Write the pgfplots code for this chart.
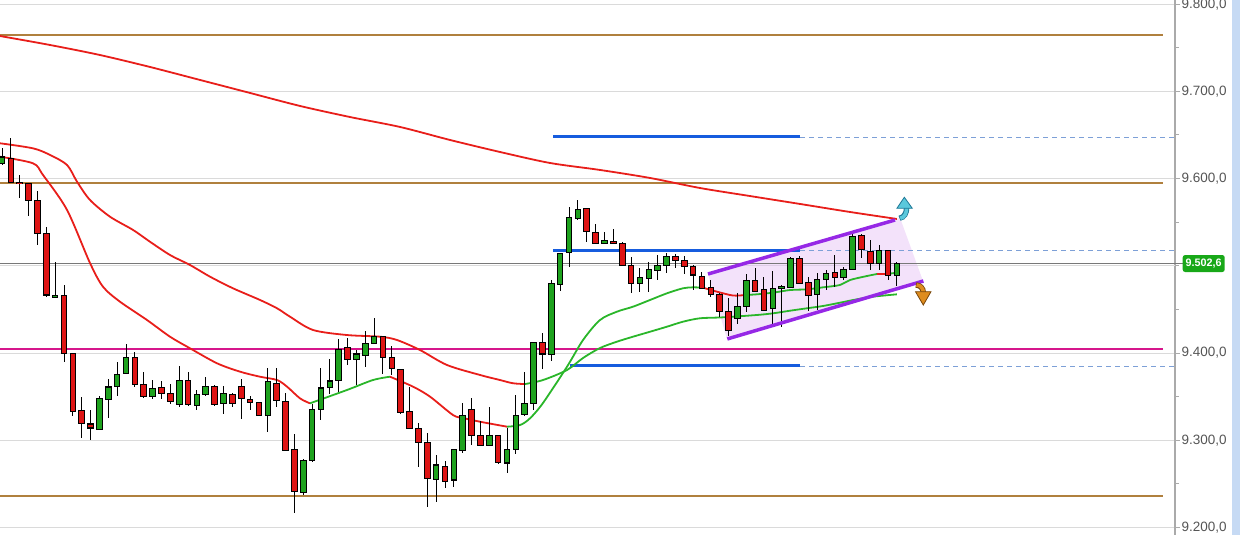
\documentclass[border=0pt]{standalone}
\usepackage{pgfplots}
\pgfplotsset{compat=1.18}
\usepackage{pgfplotstable}
\usepackage{fontspec}
\setmainfont{Liberation Sans}
\definecolor{brownl}{RGB}{176,128,62}
\definecolor{magl}{RGB}{214,22,140}
\definecolor{bluel}{RGB}{22,92,222}
\definecolor{dashb}{RGB}{125,160,215}
\definecolor{mared}{RGB}{232,30,26}
\definecolor{magreen}{RGB}{42,182,42}
\definecolor{cred}{RGB}{222,20,20}
\definecolor{cgreen}{RGB}{30,162,30}
\definecolor{gridc}{RGB}{218,218,218}
\definecolor{pricel}{RGB}{120,120,120}
\definecolor{axisc}{RGB}{170,170,170}
\definecolor{labc}{RGB}{85,85,85}
\definecolor{purp}{RGB}{150,40,230}
\definecolor{purpfill}{RGB}{228,190,245}
\definecolor{tagg}{RGB}{24,168,24}
\definecolor{stripc}{RGB}{198,218,244}
\definecolor{cyanA}{RGB}{90,200,220}
\definecolor{cyanD}{RGB}{30,120,150}
\definecolor{orA}{RGB}{222,140,30}
\definecolor{orD}{RGB}{120,70,10}

\pgfplotstableread{
i o h l c
0 9617.9 9635 9615.6 9624.8
6 9464 9504.6 9464 9466.5
11 9312.8 9350.7 9311.7 9348
12 9347.2 9370 9326 9361
13 9361.3 9390 9350.7 9375.6
14 9376.7 9410 9376.7 9395
17 9350.7 9369.7 9347 9359.5
20 9341.5 9385 9338.4 9368.2
22 9339.5 9357.6 9335.3 9352.6
23 9352.6 9372.8 9350.7 9361.4
25 9342.6 9362 9329.7 9354
30 9327.8 9382.4 9309.8 9367
34 9240 9279 9237 9277.3
35 9277.3 9341.5 9275 9335.8
36 9335.8 9382.4 9323.2 9359.9
37 9360.5 9392.8 9353 9367.9
38 9368.2 9415.7 9355.6 9404.2
40 9392.8 9403.4 9363.3 9398.9
41 9397.7 9425.6 9383.6 9411
42 9411 9439.8 9411 9419.5
49 9255.5 9283 9229.5 9271.6
51 9254.4 9289.5 9246 9289.5
52 9287.8 9343 9285.7 9328.9
55 9293.7 9337.7 9293 9305
57 9274 9313.6 9262.6 9289.5
58 9289.5 9351.8 9284 9328.9
59 9330 9378.6 9327.8 9342.7
60 9342.7 9413 9334.6 9412.4
62 9398.9 9483.7 9391 9479.8
63 9479 9514.2 9471 9514.2
64 9515.4 9567.8 9498.3 9555.5
65 9554.4 9575.5 9553 9564.7
68 9525.6 9539 9524.6 9528.7
72 9479.8 9497 9470.3 9486.7
73 9485.6 9504.6 9470.3 9495.9
74 9495.2 9512.4 9483.7 9500.9
75 9500.9 9514.7 9491.3 9510.3
83 9440 9468.4 9433.3 9453.2
84 9453.2 9490.2 9447.4 9482.9
87 9451.2 9494.4 9433.3 9474
88 9474.3 9478 9430 9476.8
89 9475.7 9510 9475.7 9508.9
92 9467.2 9491.7 9449.3 9484.4
93 9484.4 9495.2 9472.2 9491.7
95 9486.7 9498.2 9483.7 9495.9
96 9495.9 9538 9495.9 9533.5
99 9503.2 9523.9 9495.2 9517.4
101 9488.6 9504.6 9476.8 9502.6
}\greenc

\pgfplotstableread{
i o h l c
1 9623.6 9646.6 9596 9596
2 9596 9604 9578 9594
3 9595 9595 9557 9575.5
4 9575.5 9585.8 9523.9 9537.6
5 9536.5 9544.5 9464 9466.5
7 9465.7 9478 9389.7 9399.6
8 9399.6 9399.6 9328 9333.5
9 9333.8 9350 9302.5 9319.5
10 9318.6 9334.6 9300 9314
15 9395 9401.5 9361.4 9364
16 9364 9377.8 9348.8 9350.7
18 9360.6 9368 9347 9353.7
19 9353.7 9364 9341.5 9344
21 9368.2 9377.8 9339.5 9341.5
24 9362 9363 9339.5 9341.5
26 9353 9354.5 9337.7 9342.6
27 9362 9369.7 9324 9348
28 9346.9 9350.7 9334.6 9343
29 9343.5 9343.5 9328 9328
31 9365 9382.4 9337.7 9346
32 9344 9354.5 9288 9288.8
33 9289.5 9307 9216 9241.7
39 9406 9416.8 9386 9392.8
43 9418.7 9419.5 9376 9395
44 9395 9408 9374.8 9382.4
45 9381.3 9381.3 9329.7 9331.6
46 9333.5 9360.6 9313.6 9313.6
47 9313.6 9320 9268.9 9297
48 9297.9 9308 9223.6 9256
50 9270.4 9276 9245 9253
53 9335.8 9349 9294.5 9306
54 9305 9322.4 9293 9293.7
56 9305 9305 9272.7 9274
61 9412.6 9422.6 9381.7 9398.9
66 9565.9 9565.9 9527.6 9539
67 9538.2 9547.6 9525 9525.6
69 9528.4 9541.8 9525.6 9525.6
70 9525.6 9527.5 9499.8 9500.9
71 9500.5 9510.3 9468.4 9479.8
76 9510.3 9513.5 9497 9505.8
77 9505.8 9511.2 9490.2 9499.8
78 9499 9500.9 9472.2 9489.5
79 9487.8 9493.2 9474 9474
80 9475.2 9483.7 9464.6 9467.2
81 9467.2 9468.4 9441.6 9447.4
82 9447.4 9462.7 9419.5 9425.6
85 9483.7 9497.5 9471 9471
86 9473.4 9487.4 9448.5 9448.5
90 9508.9 9511.2 9480 9480
91 9480.6 9487.4 9448.2 9466.5
94 9492 9512.4 9476 9486.7
97 9535.3 9536.5 9509 9519
98 9517 9529.6 9495.2 9503.2
100 9517.4 9517.4 9483.7 9488.6
}\redc

\pgfplotsset{
  wick/.style={draw=none, mark=none, error bars/.cd, y dir=both, y explicit, error mark=none,
     error bar style={line width=1pt, draw=black}},
  bodyout/.style={draw=none, mark=none, error bars/.cd, y dir=both, y explicit, error mark=none,
     error bar style={line width=6.6pt, draw=black}},
  bodyin/.style={draw=none, mark=none, error bars/.cd, y dir=both, y explicit, error mark=none,
     error bar style={line width=4.6pt, draw=#1}},
}

\begin{document}
\begin{tikzpicture}[x=1pt,y=1pt]
\path[use as bounding box] (0,0) rectangle (1240,535);
\fill[stripc] (1232,0) rectangle (1240,535);
\begin{axis}[
  at={(0,0)}, anchor=south west,
  width=1175pt, height=535pt, scale only axis,
  xmin=-0.226, xmax=132.39, ymin=9191.3, ymax=9804.8,
  axis x line=none, axis y line*=right,
  y axis line style={draw=axisc, line width=2pt, -},
  ytick={9200,9300,9400,9600,9700,9800},
  minor ytick={9250,9350,9450,9500,9550,9650,9750},
  extra y ticks={9500}, extra y tick labels={},
  extra y tick style={grid=major, major tick length=0pt},
  ymajorgrids, major grid style={draw=gridc, line width=1pt},
  tick align=outside, major tick length=5pt, minor tick length=4pt,
  tick style={draw=axisc, line width=1pt},
  yticklabel style={font=\fontsize{13.5}{15}\selectfont, text=labc, inner sep=1.5pt},
  yticklabel={\pgfmathprintnumber[fixed, fixed zerofill, precision=1, dec sep={,}, 1000 sep={.}, assume math mode=true]{\tick}},
]
% channel fill
\addplot[fill=purpfill, fill opacity=0.45, draw=none] coordinates {(79.68,9490.6) (101.36,9554.8) (103.95,9482.6) (81.83,9416.1)} -- cycle;
% price line
\addplot[pricel, line width=0.9pt] coordinates {(-1,9502.6) (133,9502.6)};
% horizontal levels
\addplot[brownl, line width=2pt] coordinates {(-1,9764.7) (131.0,9764.7)};
\addplot[brownl, line width=2pt] coordinates {(-1,9595) (131.0,9595)};
\addplot[brownl, line width=2pt] coordinates {(-1,9236) (131.0,9236)};
\addplot[magl, line width=2pt] coordinates {(-1,9404.6) (131.0,9404.6)};
% blue levels
\addplot[bluel, line width=3pt] coordinates {(62.19,9647.7) (90.07,9647.7)};
\addplot[bluel, line width=3pt] coordinates {(62.19,9518.1) (90.07,9518.1)};
\addplot[bluel, line width=3pt] coordinates {(64.1,9385.1) (90.07,9385.1)};
\addplot[dashb, line width=0.8pt, dash pattern=on 5pt off 4pt] coordinates {(90.07,9647.7) (133,9647.7)};
\addplot[dashb, line width=0.8pt, dash pattern=on 5pt off 4pt] coordinates {(90.07,9518.1) (133,9518.1)};
\addplot[dashb, line width=0.8pt, dash pattern=on 5pt off 4pt] coordinates {(90.07,9385.1) (133,9385.1)};
% long MA
\addplot[mared, line width=1.8pt, smooth, mark=none] coordinates {
(-0.23,9763.5) (5.42,9753.2) (11.06,9741.7) (16.7,9728) (22.35,9713.1) (27.99,9698.2) (33.63,9683.3)
(39.28,9670.6) (44.92,9659.2) (50.56,9644.3) (56.21,9630.5) (61.85,9617.9) (67.49,9609.9) (73.14,9600.7)
(78.78,9589.2) (84.42,9580) (90.07,9570.9) (95.71,9561.7) (101.0,9553.7)};
% MA B
\addplot[mared, line width=1.8pt, smooth, mark=none] coordinates {
(-0.23,9640.5) (3.5,9634.7) (5.42,9627.1) (7.34,9615.6) (8.47,9596.4) (9.93,9575.5) (12.19,9556.3)
(14.79,9541.1) (16.7,9527.6) (18.96,9512.4) (21.22,9500.9) (23.48,9487.5) (26.07,9474.2) (29.12,9460.8)
(31.04,9451.3) (32.51,9441.6) (35.1,9426.4) (38.94,9420.6) (42.66,9418.7) (44.58,9414.9) (47.18,9403.4)
(50.23,9386.2) (53.95,9374.8) (56.21,9369) (57.67,9365.3) (59.03,9364.4)};
\addplot[magreen, line width=1.8pt, smooth, mark=none] coordinates {
(59.03,9364.4) (61.06,9369) (63.77,9380.5) (65.58,9394.3) (67.49,9405.7) (69.41,9413) (71.22,9418.7)
(73.14,9424.4) (75.06,9430.2) (76.86,9435.9) (78.78,9439.8) (81.38,9440.9) (85.21,9443.6) (87.02,9445.5)
(88.94,9448.5) (90.86,9451.3) (92.66,9453.9) (94.58,9457.7) (96.5,9461.6) (98.31,9464.6) (101.0,9467.3)};
% MA A
\addplot[mared, line width=1.8pt, smooth, mark=none] coordinates {
(-0.23,9625.1) (3.5,9617.5) (4.63,9604.1) (7.34,9564) (9.93,9503.2) (11.4,9476) (13.32,9458.8)
(16.37,9437.8) (18.96,9418.7) (21.22,9405.4) (24.27,9388.2) (26.86,9378.6) (29.12,9372.8) (31.04,9369)
(32.17,9361.4) (33.63,9348) (34.76,9342.3)};
\addplot[magreen, line width=1.8pt, smooth, mark=none] coordinates {
(34.76,9342.3) (38.94,9357.6) (41.87,9369) (43.79,9372.8)};
\addplot[mared, line width=1.8pt, smooth, mark=none] coordinates {
(43.79,9372.8) (46.39,9361.4) (48.31,9349.9) (50.9,9328.9) (52.03,9325.5) (53.95,9321.2) (57,9315.5)};
\addplot[magreen, line width=1.8pt, smooth, mark=none] coordinates {
(57,9315.5) (58.47,9317.4) (59.59,9325.1) (61.06,9342.7) (63.77,9384.3) (65.58,9414.9) (67.49,9437.8)
(69.41,9447.4) (71.22,9453.1) (73.14,9460.8) (75.06,9468.5) (76.86,9474.2) (77.99,9475.3) (79.12,9474.9)};
\addplot[mared, line width=1.8pt, smooth, mark=none] coordinates {
(79.12,9474.9) (80.7,9470.3) (82.51,9465.9) (83.86,9466.5)};
\addplot[magreen, line width=1.8pt, smooth, mark=none] coordinates {
(83.86,9466.5) (85.21,9467.3) (87.02,9469.2) (88.94,9472.2) (90.86,9473) (92.66,9475.3) (94.58,9478)
(95.71,9483.7) (97.63,9488.3) (98.76,9490.6)};
\addplot[mared, line width=1.8pt, mark=none] coordinates {(98.76,9490.6) (99.89,9490.6)};
\addplot[magreen, line width=1.8pt, mark=none] coordinates {(99.89,9490.6) (101.0,9492.1)};
% candles: wicks
\addplot[wick] table[x=i, y expr={(\thisrow{h}+\thisrow{l})/2}, y error expr={(\thisrow{h}-\thisrow{l})/2}] {\greenc};
\addplot[wick] table[x=i, y expr={(\thisrow{h}+\thisrow{l})/2}, y error expr={(\thisrow{h}-\thisrow{l})/2}] {\redc};
% candles: bodies
\addplot[bodyout] table[x=i, y expr={(\thisrow{o}+\thisrow{c})/2}, y error expr={abs(\thisrow{o}-\thisrow{c})/2+0.6}] {\greenc};
\addplot[bodyout] table[x=i, y expr={(\thisrow{o}+\thisrow{c})/2}, y error expr={abs(\thisrow{o}-\thisrow{c})/2+0.6}] {\redc};
\addplot[bodyin=cgreen] table[x=i, y expr={(\thisrow{o}+\thisrow{c})/2}, y error expr={max(abs(\thisrow{o}-\thisrow{c})/2-0.6,0)}] {\greenc};
\addplot[bodyin=cred] table[x=i, y expr={(\thisrow{o}+\thisrow{c})/2}, y error expr={max(abs(\thisrow{o}-\thisrow{c})/2-0.6,0)}] {\redc};
% channel lines
\addplot[purp, line width=3.5pt] coordinates {(79.68,9490.6) (100.79,9552.5)};
\addplot[purp, line width=3.5pt] coordinates {(81.86,9416.1) (103.99,9482.6)};
% arrows
\draw[cyanD, line width=5.4pt] (axis cs:101.3,9554.5) to[out=10,in=-90] (axis cs:102.1,9566.5);
\draw[cyanA, line width=3.6pt] (axis cs:101.38,9554.5) to[out=10,in=-90] (axis cs:102.1,9566.5);
\filldraw[fill=cyanA, draw=cyanD, line width=0.8pt] (axis cs:101.0,9565.9) -- (axis cs:101.84,9578.6) -- (axis cs:102.74,9565.9) -- cycle;
\draw[orD, line width=5.4pt] (axis cs:103.15,9478) to[out=0,in=90] (axis cs:103.98,9469.5);
\draw[orA, line width=3.6pt] (axis cs:103.22,9478) to[out=0,in=90] (axis cs:103.98,9469.5);
\filldraw[fill=orA, draw=orD, line width=0.8pt] (axis cs:103.1,9470.3) -- (axis cs:103.98,9455) -- (axis cs:104.85,9470.3) -- cycle;
\coordinate (tagpt) at (axis cs:132.39,9502.6);
\end{axis}
\draw[pricel, line width=0.9pt] (tagpt) -- ([xshift=8pt]tagpt);
\node[fill=tagg, rounded corners=2.5pt, text=white, font=\bfseries\fontsize{10.8}{12}\selectfont,
  inner xsep=3pt, inner ysep=0pt, minimum height=17pt, anchor=west] at ([xshift=7.5pt]tagpt) {9.502,6};
\end{tikzpicture}
\end{document}
